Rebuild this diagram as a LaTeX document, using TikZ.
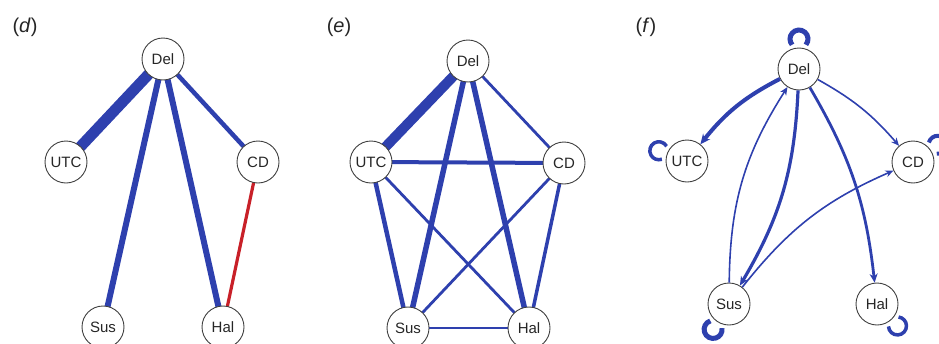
\documentclass[tikz,border=0pt]{standalone}
\usepackage{fontspec}
\setmainfont{Liberation Sans}
\usetikzlibrary{arrows.meta,calc,backgrounds}
\definecolor{blu}{RGB}{46,64,174}
\definecolor{rd}{RGB}{200,32,40}
\begin{document}
\begin{tikzpicture}[x=1pt,y=1pt,
 nd/.style={circle,draw=black!75,line width=0.9pt,fill=white,minimum size=42pt,inner sep=0pt,font=\fontsize{15}{15}\selectfont,text=black!85},
 lbl/.style={font=\fontsize{20}{20}\selectfont,text=black!85,inner sep=0pt},
 ue/.style={draw=blu,shorten <=-4pt,shorten >=-4pt},
 de/.style={draw=blu,-{Stealth[length=8pt,width=7pt]}},
 lp/.style={draw=blu},
]
\clip (0,0) rectangle (939,-343);
% panel labels
\node[lbl] (ld) at (25,-27) {(\textit{d})};
\node[lbl] (le) at (339,-27) {(\textit{e})};
\node[lbl] (lf) at (646,-27) {(\textit{f})};
% panel d
\node[nd] (Dd) at (163,-59) {Del};
\node[nd] (Ud) at (66,-162) {UTC};
\node[nd] (Cd) at (258,-162) {CD};
\node[nd] (Sd) at (103,-327) {Sus};
\node[nd] (Hd) at (223,-327) {Hal};
% panel e
\node[nd] (De) at (468,-61) {Del};
\node[nd] (Ue) at (371,-162) {UTC};
\node[nd] (Ce) at (564,-163) {CD};
\node[nd] (Se) at (408,-328) {Sus};
\node[nd] (He) at (529,-328) {Hal};
% panel f
\node[nd] (Df) at (799,-69) {Del};
\node[nd] (Uf) at (687,-161) {UTC};
\node[nd] (Cf) at (913,-162) {CD};
\node[nd] (Sf) at (729,-304) {Sus};
\node[nd] (Hf) at (877,-304) {Hal};
\begin{scope}[on background layer]
% d edges
\draw[ue,line width=11pt] (Dd) -- (Ud);
\draw[ue,line width=6pt] (Dd) -- (Sd);
\draw[ue,line width=6pt] (Dd) -- (Hd);
\draw[ue,line width=4.5pt] (Dd) -- (Cd);
\draw[ue,draw=rd,line width=3.2pt] (Cd) -- (Hd);
% e edges
\draw[ue,line width=10pt] (De) -- (Ue);
\draw[ue,line width=5.5pt] (De) -- (Se);
\draw[ue,line width=5.5pt] (De) -- (He);
\draw[ue,line width=2.8pt] (De) -- (Ce);
\draw[ue,line width=4pt] (Ue) -- (Ce);
\draw[ue,line width=4.5pt] (Ue) -- (Se);
\draw[ue,line width=2.8pt] (Ue) -- (He);
\draw[ue,line width=2.8pt] (Ce) -- (Se);
\draw[ue,line width=3.5pt] (Ce) -- (He);
\draw[ue,line width=2.8pt] (Se) -- (He);
% f loops
\foreach \n/\a/\w in {Df/90/5,Uf/160/3.5,Cf/35/4,Sf/238/5,Hf/313/3.5}
  \draw[lp,line width=\w pt] ($(\n)+(\a:30pt)+(\a+230:9pt)$) arc[start angle=\a+230,end angle=\a+490,radius=9pt];
\end{scope}
% f edges
\draw[de,line width=4pt,-{Stealth[length=10pt,width=9pt]}] (Df) to[bend right=12] (Uf);
\draw[de,line width=3.2pt,-{Stealth[length=9pt,width=8pt]}] (Df) to[bend left=14] (Sf);
\draw[de,line width=1.6pt] (Sf) to[bend left=16] (Df);
\draw[de,line width=1.6pt] (Sf) to[bend left=14] (Cf);
\draw[de,line width=1.6pt] (Df) to[bend left=10] (Cf);
\draw[de,line width=2.8pt,-{Stealth[length=9pt,width=8pt]}] (Df) to[bend left=12] (Hf);
\end{tikzpicture}
\end{document}
